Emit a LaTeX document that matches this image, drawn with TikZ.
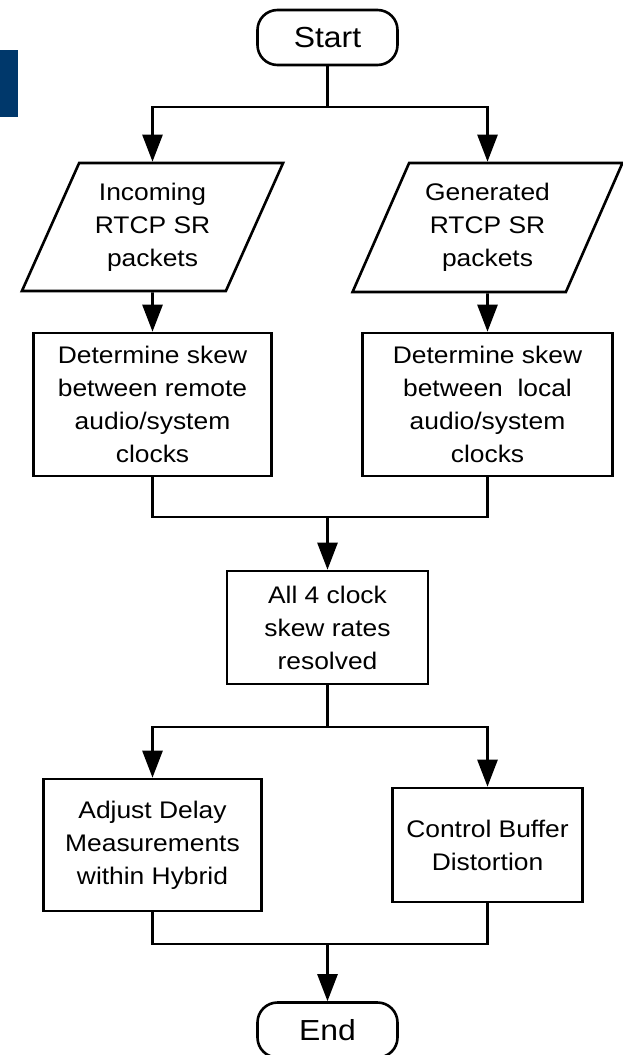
\documentclass[tikz,border=0pt]{standalone}
\usepackage{fontspec}
\setmainfont[FakeStretch=1.1]{Liberation Sans}
\usetikzlibrary{arrows.meta}
\usetikzlibrary{shapes.geometric}
\definecolor{navyblock}{RGB}{0,56,107}

\begin{document}
\begin{tikzpicture}[x=1pt,y=-1pt,line width=2.6pt,
    flow/.style={-{Triangle[width=20pt,length=27pt]}},
    proc/.style={draw,rectangle,align=center,inner sep=0pt,font=\fontsize{24}{33}\selectfont},
    io/.style={draw,trapezium,trapezium left angle=63,trapezium right angle=117,
      trapezium stretches=true,align=center,inner sep=0pt,font=\fontsize{24}{33}\selectfont},
    term/.style={draw,rectangle,rounded corners=20pt,inner sep=0pt,
      minimum width=140pt,minimum height=55pt,font=\fontsize{29}{33}\selectfont}]
  \useasboundingbox (0,0) rectangle (623,1055);
  \fill[navyblock] (0,50) rectangle (18,117);

  \node[term] (start) at (327.5,37.5) {Start};
  \coordinate (fork1) at (327.5,107);
  \node[io,minimum width=262pt,minimum height=128pt] (inc) at (152.5,227) {Incoming\\RTCP SR\\packets};
  \node[io,minimum width=270pt,minimum height=129pt] (gen) at (487.5,227.5) {Generated\\RTCP SR\\packets};
  \node[proc,minimum width=238pt,minimum height=143pt] (rem) at (152.5,404.5) {Determine skew\\between remote\\audio/system\\clocks};
  \node[proc,minimum width=250pt,minimum height=143pt] (loc) at (487.5,404.5) {Determine skew\\between~~local\\audio/system\\clocks};
  \coordinate (join1) at (327.5,517);
  \node[proc,minimum width=201pt,minimum height=113pt] (all4) at (327.5,627.5) {All 4 clock\\skew rates\\resolved};
  \coordinate (fork2) at (327.5,727);
  \node[proc,minimum width=218pt,minimum height=132pt] (adj) at (152.5,845) {Adjust Delay\\Measurements\\within Hybrid};
  \node[proc,minimum width=190pt,minimum height=114pt] (ctl) at (487.5,845) {Control Buffer\\Distortion};
  \coordinate (join2) at (327.5,944);
  \node[term] (stop) at (327.5,1030) {End};

  \draw (start) -- (fork1);
  \draw[flow] (fork1) -| (inc);
  \draw[flow] (fork1) -| (gen);
  \draw[flow] (inc) -- (rem);
  \draw[flow] (gen) -- (loc);
  \draw (rem) |- (join1);
  \draw (loc) |- (join1);
  \draw[flow] (join1) -- (all4);
  \draw (all4) -- (fork2);
  \draw[flow] (fork2) -| (adj);
  \draw[flow] (fork2) -| (ctl);
  \draw (adj) |- (join2);
  \draw (ctl) |- (join2);
  \draw[flow] (join2) -- (stop);
\end{tikzpicture}
\end{document}
